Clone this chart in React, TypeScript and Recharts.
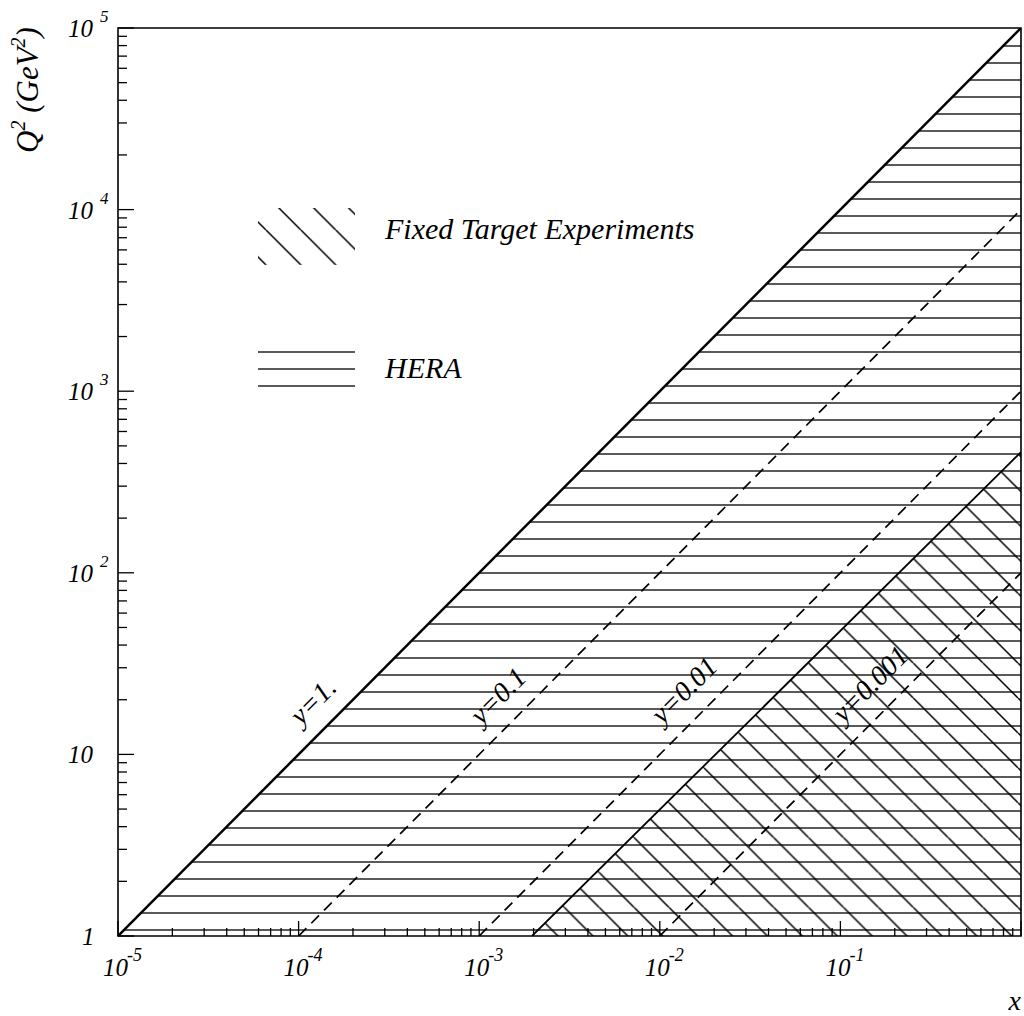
import {
  ComposedChart,
  Area,
  Line,
  Scatter,
  XAxis,
  YAxis,
  ReferenceArea,
  Legend,
} from 'recharts'

// decades and minor-tick multipliers for both log axes
const X_DECADES = [1e-5, 1e-4, 1e-3, 1e-2, 1e-1, 1]
const Q2_DECADES = [1, 10, 100, 1e3, 1e4, 1e5]
const MINOR_STEPS = [2, 3, 4, 5, 6, 7, 8, 9]

// kinematic regions (x, Q^2 in GeV^2)
const HERA_REGION = [
  { x: 1e-5, q2: 1 },
  { x: 1, q2: 1e5 },
]
const FIXED_TARGET_REGION = [
  { x: 1.96e-3, q2: 1 },
  { x: 1, q2: 462 },
]

// lines of constant inelasticity y
const Y_1 = [
  { x: 1e-5, q2: 1 },
  { x: 1, q2: 1e5 },
]
const Y_01 = [
  { x: 1e-4, q2: 1 },
  { x: 1, q2: 1e4 },
]
const Y_001 = [
  { x: 1e-3, q2: 1 },
  { x: 1, q2: 1e3 },
]
const Y_0001 = [
  { x: 1e-2, q2: 1 },
  { x: 1, q2: 1e2 },
]

const LINE_LABELS = [
  { text: 'y=1.', x: 1.2e-4, q2: 19.7 },
  { text: 'y=0.1', x: 1.27e-3, q2: 21 },
  { text: 'y=0.01', x: 0.0136, q2: 22.6 },
  { text: 'y=0.001', x: 0.146, q2: 24.4 },
]

const FT_NAME = 'Fixed Target Experiments'
const HERA_NAME = 'HERA'

const FONT = '"Liberation Serif", "Times New Roman", serif'

const withMinors = (decades: number[]) =>
  decades.flatMap((d, i) => (i < decades.length - 1 ? [d, ...MINOR_STEPS.map((m) => d * m)] : [d]))

const X_TICKS = withMinors(X_DECADES)
const Q2_TICKS = withMinors(Q2_DECADES)

const isDecade = (v: number) => Math.abs(Math.log10(v) - Math.round(Math.log10(v))) < 1e-6

function XTick(props: any) {
  const { x, y, payload } = props
  const v = payload.value as number
  const major = isDecade(v)
  const e = Math.round(Math.log10(v))
  return (
    <g>
      <line x1={x} y1={y} x2={x} y2={y - (major ? 15 : 8)} stroke="#000" strokeWidth={1.3} />
      {major && e < 0 && (
        <text x={x - 15} y={y + 40} fontFamily={FONT} fontStyle="italic" fontSize={25} fill="#000">
          10
          <tspan dx={-1} dy={-15} fontSize={18}>
            {`-${-e}`}
          </tspan>
        </text>
      )}
    </g>
  )
}

function YTick(props: any) {
  const { x, y, payload } = props
  const v = payload.value as number
  const major = isDecade(v)
  const e = Math.round(Math.log10(v))
  let label = null
  if (major) {
    if (e === 0) {
      label = (
        <text x={x - 36} y={y + 9} fontFamily={FONT} fontStyle="italic" fontSize={25} fill="#000">
          1
        </text>
      )
    } else if (e === 1) {
      label = (
        <text x={x - 50} y={y + 9} fontFamily={FONT} fontStyle="italic" fontSize={25} fill="#000">
          10
        </text>
      )
    } else {
      label = (
        <text x={x - 50} y={y + 9} fontFamily={FONT} fontStyle="italic" fontSize={25} fill="#000">
          10
          <tspan dx={7} dy={-15} fontSize={17}>
            {e}
          </tspan>
        </text>
      )
    }
  }
  return (
    <g>
      <line x1={x} y1={y} x2={x + (major ? 16 : 9)} y2={y} stroke="#000" strokeWidth={1.3} />
      {label}
    </g>
  )
}

function LineLabel(props: any) {
  const { cx, cy, payload } = props
  return (
    <text
      x={cx}
      y={cy}
      transform={`rotate(-45 ${cx} ${cy})`}
      textAnchor="middle"
      dominantBaseline="central"
      fontFamily={FONT}
      fontStyle="italic"
      fontSize={28}
      fill="#000"
    >
      {payload.text}
    </text>
  )
}

function HatchLegend() {
  return (
    <svg width={480} height={210} style={{ overflow: 'visible' }}>
      <defs>
        <pattern id="ftHatchLegend" patternUnits="userSpaceOnUse" x={15.9} width={34.9} height={34.9}>
          <path d="M0 0 L34.9 34.9 M-34.9 0 L0 34.9 M0 -34.9 L34.9 0" stroke="#000" strokeWidth={1.5} />
        </pattern>
        <pattern id="heraHatchLegend" patternUnits="userSpaceOnUse" width={20} height={17}>
          <path d="M0 4 H20" stroke="#000" strokeWidth={1.3} />
        </pattern>
      </defs>
      <rect x={8} y={13} width={97} height={57} fill="url(#ftHatchLegend)" />
      <text x={135} y={44} fontFamily={FONT} fontStyle="italic" fontSize={30} fill="#000">
        {FT_NAME}
      </text>
      <rect x={8} y={150} width={97} height={45} fill="url(#heraHatchLegend)" />
      <text x={135} y={183} fontFamily={FONT} fontStyle="italic" fontSize={30} fill="#000">
        {HERA_NAME}
      </text>
    </svg>
  )
}

function YTitle() {
  return (
    <text
      x={38}
      y={90}
      transform="rotate(-90 38 90)"
      textAnchor="middle"
      fontFamily={FONT}
      fontStyle="italic"
      fontSize={31}
      fill="#000"
    >
      Q
      <tspan dy={-13} fontSize={20}>
        2
      </tspan>
      <tspan dy={13}>{'  (GeV'}</tspan>
      <tspan dy={-13} fontSize={20}>
        2
      </tspan>
      <tspan dy={13}>)</tspan>
    </text>
  )
}

function XTitle(props: any) {
  const { viewBox } = props
  return (
    <text
      x={viewBox.x + viewBox.width}
      y={viewBox.y + 74}
      textAnchor="end"
      fontFamily={FONT}
      fontStyle="italic"
      fontSize={28}
      fill="#000"
    >
      x
    </text>
  )
}

export default function App() {
  return (
    <div style={{ position: 'absolute', left: 0, top: 0, width: 1024, height: 1016, background: '#fff' }}>
      <ComposedChart width={1024} height={1016} margin={{ top: 28, right: 3, bottom: 0, left: 38 }}>
        <defs>
          <pattern id="heraHatch" patternUnits="userSpaceOnUse" width={20} height={17}>
            <path d="M0 12 H20" stroke="#000" strokeWidth={1.3} />
          </pattern>
          <pattern id="ftHatch" patternUnits="userSpaceOnUse" x={5.9} width={34.9} height={34.9}>
            <path d="M0 0 L34.9 34.9 M-34.9 0 L0 34.9 M0 -34.9 L34.9 0" stroke="#000" strokeWidth={1.5} />
          </pattern>
        </defs>
        <XAxis
          dataKey="x"
          type="number"
          scale="log"
          domain={[1e-5, 1]}
          allowDataOverflow
          ticks={X_TICKS}
          interval={0}
          tickSize={0}
          tickMargin={0}
          tickLine={false}
          axisLine={false}
          tick={<XTick />}
          height={80}
          label={{ content: (p: any) => <XTitle {...p} /> }}
        />
        <YAxis
          dataKey="q2"
          type="number"
          scale="log"
          domain={[1, 1e5]}
          allowDataOverflow
          ticks={Q2_TICKS}
          interval={0}
          tickSize={0}
          tickMargin={0}
          tickLine={false}
          axisLine={false}
          tick={<YTick />}
          width={80}
          label={{ content: () => <YTitle /> }}
        />
        <Legend
          layout="vertical"
          align="center"
          verticalAlign="middle"
          content={() => <HatchLegend />}
          wrapperStyle={{ left: 250, top: 195, width: 480, height: 210 }}
        />
        <Area
          name={HERA_NAME}
          data={HERA_REGION}
          dataKey="q2"
          type="linear"
          baseValue={1}
          stroke="none"
          fill="url(#heraHatch)"
          fillOpacity={1}
          isAnimationActive={false}
        />
        <Area
          name={FT_NAME}
          data={FIXED_TARGET_REGION}
          dataKey="q2"
          type="linear"
          baseValue={1}
          stroke="#000"
          strokeWidth={1.8}
          fill="url(#ftHatch)"
          fillOpacity={1}
          isAnimationActive={false}
        />
        <Line data={Y_01} dataKey="q2" type="linear" stroke="#000" strokeWidth={1.7} strokeDasharray="11 7" dot={false} legendType="none" isAnimationActive={false} />
        <Line data={Y_001} dataKey="q2" type="linear" stroke="#000" strokeWidth={1.7} strokeDasharray="11 7" dot={false} legendType="none" isAnimationActive={false} />
        <Line data={Y_0001} dataKey="q2" type="linear" stroke="#000" strokeWidth={1.7} strokeDasharray="11 7" dot={false} legendType="none" isAnimationActive={false} />
        <Line data={Y_1} dataKey="q2" type="linear" stroke="#000" strokeWidth={2.5} dot={false} legendType="none" isAnimationActive={false} />
        <ReferenceArea x1={1e-5} x2={1} y1={1} y2={1e5} fill="none" stroke="#000" strokeWidth={1.6} />
        <Scatter data={LINE_LABELS} dataKey="q2" shape={<LineLabel />} legendType="none" isAnimationActive={false} />
      </ComposedChart>
    </div>
  )
}
